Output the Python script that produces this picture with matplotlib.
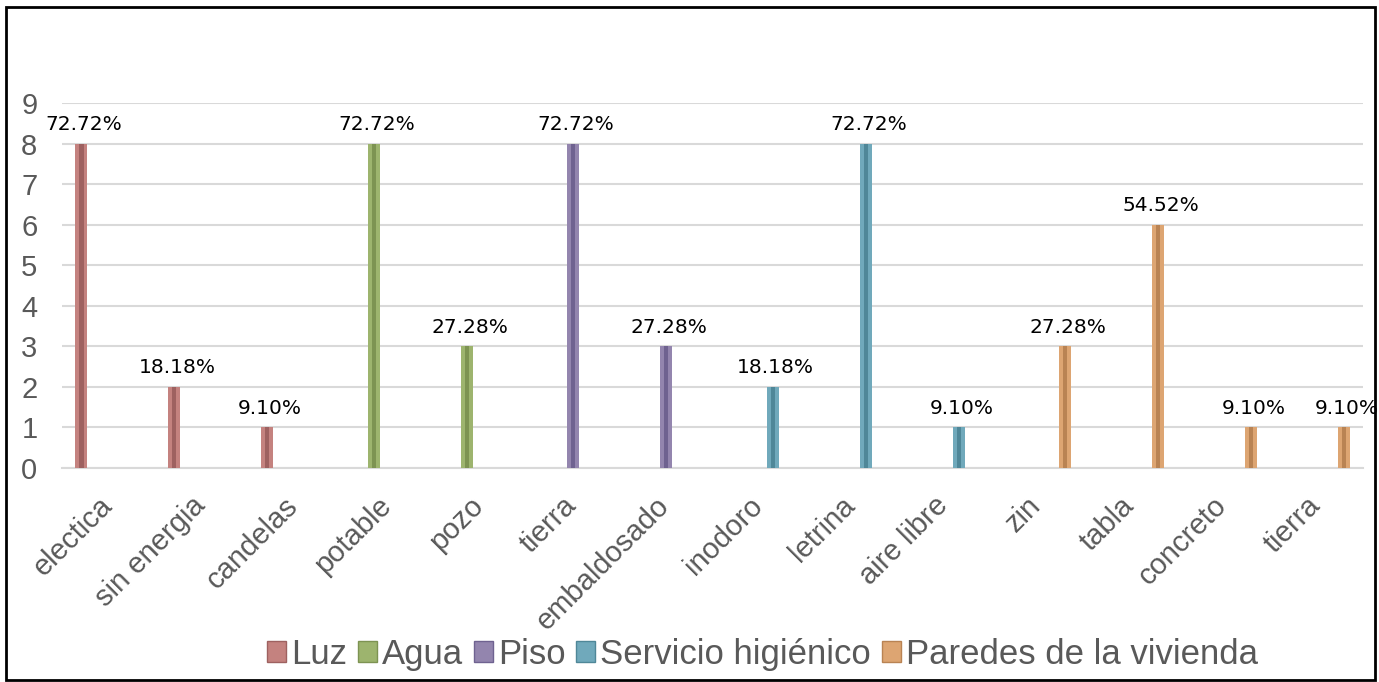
import numpy as np
import matplotlib
matplotlib.use("Agg")
import matplotlib.pyplot as plt
from matplotlib.patches import Patch, Rectangle
from matplotlib.transforms import ScaledTranslation

# Data
categories = ["electica", "sin energia", "candelas", "potable", "pozo", "tierra",
              "embaldosado", "inodoro", "letrina", "aire libre", "zin", "tabla",
              "concreto", "tierra"]
counts = [8, 2, 1, 8, 3, 8, 3, 2, 8, 1, 3, 6, 1, 1]
pct_labels = ["72.72%", "18.18%", "9.10%", "72.72%", "27.28%", "72.72%", "27.28%",
              "18.18%", "72.72%", "9.10%", "27.28%", "54.52%", "9.10%", "9.10%"]
series_names = ["Luz", "Agua", "Piso", "Servicio higiénico", "Paredes de la vivienda"]
series_of_cat = [0, 0, 0, 1, 1, 2, 2, 3, 3, 3, 4, 4, 4, 4]

face_colors = ["#C4827F", "#9DB46E", "#9385AE", "#70A9BB", "#DDA572"]
dark_colors = ["#9E6160", "#7D9352", "#6F6290", "#4F8798", "#B98353"]

plt.rcParams['font.family'] = ['Liberation Sans', 'DejaVu Sans']

fig = plt.figure(figsize=(13.79, 6.82), dpi=100)
ax = fig.add_axes([0.0453, 0.3138, 0.9431, 0.5352])

x = np.arange(len(categories))
slot = 0.148
for s, name in enumerate(series_names):
    idx = [i for i, k in enumerate(series_of_cat) if k == s]
    xs = x[idx] + (s - 2) * slot
    vals = [counts[i] for i in idx]
    ax.bar(xs, vals, width=0.13, color=face_colors[s], zorder=3)
    ax.bar(xs, vals, width=0.045, color=dark_colors[s], zorder=4)
    for xi, v, i in zip(xs, vals, idx):
        ax.annotate(pct_labels[i], (xi, v), xytext=(2, 7), textcoords="offset points",
                    ha="center", va="bottom", fontsize=14.5, family="DejaVu Sans",
                    color="black", zorder=5)

ax.set_xlim(-0.5, len(categories) - 0.5)
ax.set_ylim(0, 9)
ax.set_yticks(range(0, 10))
ax.yaxis.grid(True, color="#D9D9D9", linewidth=1.5, zorder=0)
ax.set_axisbelow(True)
for side in ["top", "right", "left"]:
    ax.spines[side].set_visible(False)
ax.spines["bottom"].set_color("#D9D9D9")
ax.spines["bottom"].set_linewidth(1.5)

ax.tick_params(axis="y", length=0, pad=18, labelsize=21, labelcolor="#595959")
ax.tick_params(axis="x", length=0, pad=17)
ax.set_xticks(x)
ax.set_xticklabels(categories, rotation=45, ha="right", va="top",
                   rotation_mode="anchor", fontsize=21, color="#595959")
shift = ScaledTranslation(-0.11, 0, fig.dpi_scale_trans)
for lab in ax.get_xticklabels():
    lab.set_transform(lab.get_transform() + shift)

handles = [Patch(facecolor=face_colors[s], edgecolor=dark_colors[s], label=n)
           for s, n in enumerate(series_names)]
fig.legend(handles=handles, loc="center", bbox_to_anchor=(0.553, 0.041), ncol=5,
           frameon=False, fontsize=25, handlelength=0.55, handleheight=0.55,
           handletextpad=0.15, columnspacing=0.3, labelcolor="#595959")

fig.patches.append(Rectangle((0.0045, 0.003), 0.9926, 0.9867, transform=fig.transFigure,
                             fill=False, edgecolor="black", linewidth=2))

fig.savefig("out.png", dpi=100)
